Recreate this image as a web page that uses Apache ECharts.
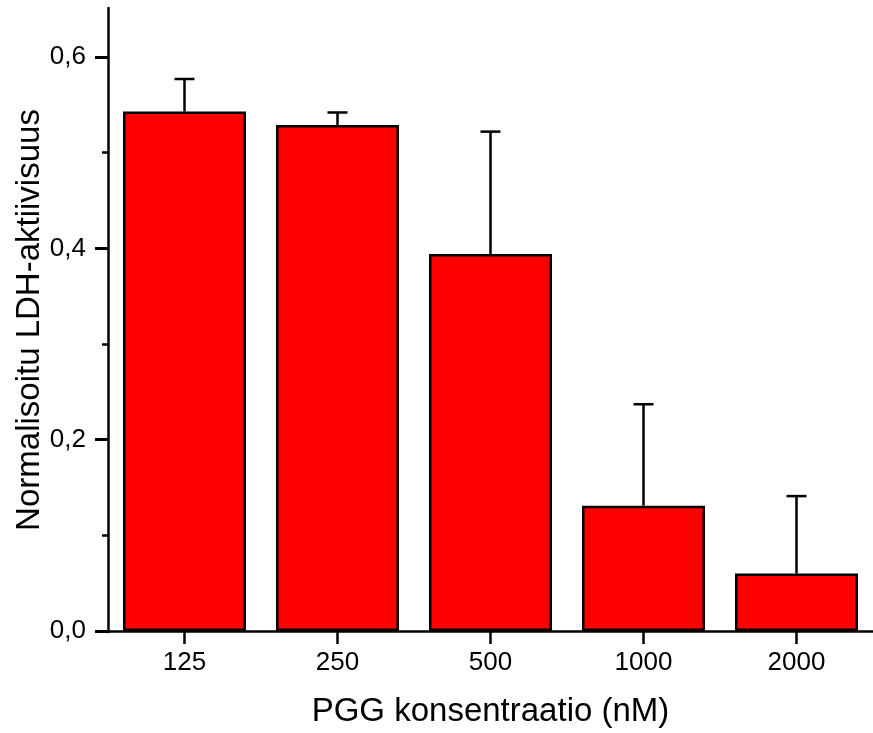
<!DOCTYPE html>
<html>
<head>
<meta charset="utf-8">
<script src="https://cdn.jsdelivr.net/npm/echarts@6/dist/echarts.min.js"></script>
<style>
  html, body { margin: 0; padding: 0; background: #fff; }
  #chart { width: 873px; height: 733px; }
</style>
</head>
<body>
<div id="chart"></div>
<script>
// data
const categories = ['125', '250', '500', '1000', '2000']
const means = [0.543, 0.529, 0.394, 0.131, 0.060]
const errors = [0.034, 0.013, 0.128, 0.106, 0.081]

const font = "'Liberation Sans', Arial, sans-serif"
const fmt = v => v.toFixed(1).replace('.', ',')
const ink = { color: '#000', width: 2.5 }

const errData = means.map((m, i) => [i, m, m + errors[i]])

function renderErr (params, api) {
  const base = api.coord([api.value(0), api.value(1)])
  const top = api.coord([api.value(0), api.value(2)])
  const cap = 10
  const style = { stroke: '#000', lineWidth: 2.5 }
  return {
    type: 'group',
    children: [
      { type: 'line', shape: { x1: base[0], y1: base[1], x2: top[0], y2: top[1] }, style },
      { type: 'line', shape: { x1: top[0] - cap, y1: top[1], x2: top[0] + cap, y2: top[1] }, style }
    ]
  }
}

const chart = echarts.init(document.getElementById('chart'))
chart.setOption({
  animation: false,
  backgroundColor: '#fff',
  // grid 0 holds the data up to 0,6; grid 1 only draws the taller axis line and the name
  grid: [
    { left: 108, top: 57, width: 772, bottom: 101, containLabel: false },
    { left: 108, top: 8, width: 772, bottom: 101, containLabel: false }
  ],
  xAxis: [{
    type: 'category',
    gridIndex: 0,
    data: categories,
    name: 'PGG konsentraatio (nM)',
    nameLocation: 'middle',
    nameGap: 64,
    nameTextStyle: { fontFamily: font, fontSize: 33, color: '#000' },
    axisLine: { show: true, lineStyle: ink },
    axisTick: { show: true, alignWithLabel: true, length: 13, lineStyle: ink },
    axisLabel: { fontFamily: font, fontSize: 26, color: '#000', margin: 19 }
  }, {
    type: 'category',
    gridIndex: 1,
    data: categories,
    show: false
  }],
  yAxis: [{
    type: 'value',
    gridIndex: 0,
    min: 0,
    max: 0.6,
    interval: 0.2,
    splitLine: { show: false },
    axisLine: { show: false },
    axisTick: { show: true, inside: false, length: 13, lineStyle: { color: '#000', width: 3 } },
    minorTick: { show: true, splitNumber: 2, length: 6, lineStyle: ink },
    minorSplitLine: { show: false },
    axisLabel: { formatter: fmt, fontFamily: font, fontSize: 26, color: '#000', margin: 22 }
  }, {
    type: 'value',
    gridIndex: 1,
    min: 0,
    max: 1,
    name: 'Normalisoitu LDH-aktiivisuus',
    nameLocation: 'middle',
    nameGap: 62,
    nameTextStyle: { fontFamily: font, fontSize: 33, color: '#000' },
    splitLine: { show: false },
    axisLine: { show: true, lineStyle: ink },
    axisTick: { show: false },
    axisLabel: { show: false }
  }],
  series: [{
    type: 'bar',
    data: means,
    barWidth: 123,
    itemStyle: { color: '#ff0000', borderColor: '#000', borderWidth: 2.5 }
  }, {
    type: 'custom',
    data: errData,
    renderItem: renderErr,
    encode: { x: 0, y: [1, 2] },
    clip: false,
    z: 1
  }]
})
</script>
</body>
</html>
